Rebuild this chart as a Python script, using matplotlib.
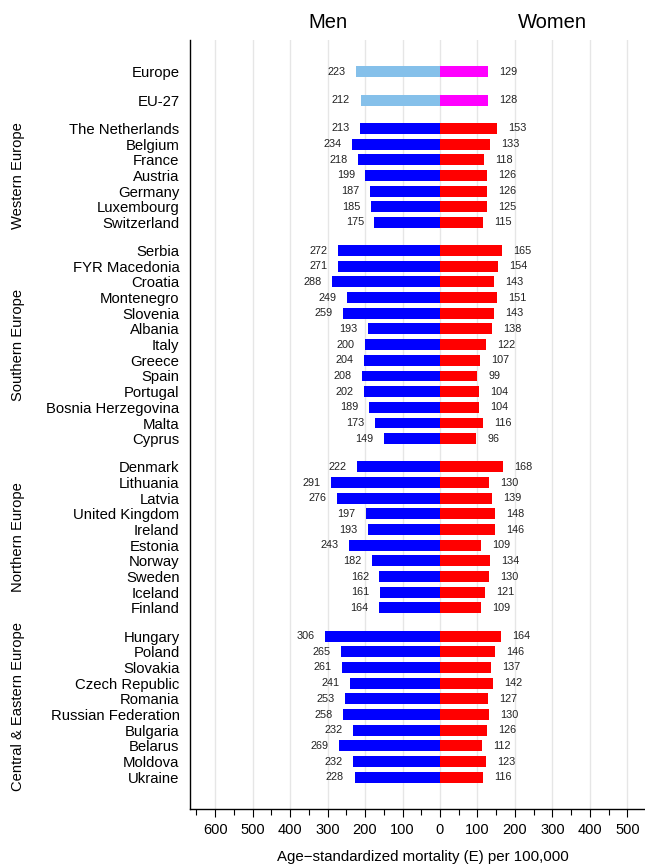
import matplotlib
matplotlib.use("Agg")
import matplotlib.pyplot as plt
import matplotlib.transforms as mtransforms
import numpy as np

plt.rcParams['font.family'] = ['Liberation Sans', 'DejaVu Sans']

totals = ["Europe", "EU-27"]
totals_men = [223, 212]
totals_women = [129, 128]

regions = ["Western Europe", "Southern Europe", "Northern Europe", "Central & Eastern Europe"]
countries = [
    ["The Netherlands", "Belgium", "France", "Austria", "Germany", "Luxembourg", "Switzerland"],
    ["Serbia", "FYR Macedonia", "Croatia", "Montenegro", "Slovenia", "Albania", "Italy", "Greece",
     "Spain", "Portugal", "Bosnia Herzegovina", "Malta", "Cyprus"],
    ["Denmark", "Lithuania", "Latvia", "United Kingdom", "Ireland", "Estonia", "Norway", "Sweden",
     "Iceland", "Finland"],
    ["Hungary", "Poland", "Slovakia", "Czech Republic", "Romania", "Russian Federation", "Bulgaria",
     "Belarus", "Moldova", "Ukraine"],
]
men = [
    [213, 234, 218, 199, 187, 185, 175],
    [272, 271, 288, 249, 259, 193, 200, 204, 208, 202, 189, 173, 149],
    [222, 291, 276, 197, 193, 243, 182, 162, 161, 164],
    [306, 265, 261, 241, 253, 258, 232, 269, 232, 228],
]
women = [
    [153, 133, 118, 126, 126, 125, 115],
    [165, 154, 143, 151, 143, 138, 122, 107, 99, 104, 104, 116, 96],
    [168, 130, 139, 148, 146, 109, 134, 130, 121, 109],
    [164, 146, 137, 142, 127, 130, 126, 112, 123, 116],
]
xticks = [-600, -500, -400, -300, -200, -100, 0, 100, 200, 300, 400, 500]

fig = plt.figure(figsize=(6.45, 8.66), dpi=100)
ax = fig.add_axes([190/645, 1-809/866, 1-190/645, (809-40)/866])

gap = 1.8
bar_h = 0.7
labels, ypos, mvals, wvals, mcols, wcols = [], [], [], [], [], []
y = 0.0
for n, m, w in zip(totals, totals_men, totals_women):
    labels.append(n); ypos.append(y); mvals.append(m); wvals.append(w)
    mcols.append('#85C0EA'); wcols.append('#FF00FF')
    y += gap
region_centers = []
for g in range(len(regions)):
    start = y
    for n, m, w in zip(countries[g], men[g], women[g]):
        labels.append(n); ypos.append(y); mvals.append(m); wvals.append(w)
        mcols.append('#0000FF'); wcols.append('#FF0000')
        y += 1
    region_centers.append((start + y - 1) / 2)
    y += gap - 1

for xv in xticks:
    ax.axvline(xv, color='#E6E6E6', lw=1.0, zorder=0)

ax.barh(ypos, [-v for v in mvals], height=bar_h, color=mcols, zorder=2)
ax.barh(ypos, wvals, height=bar_h, color=wcols, zorder=2)

for yy, m, w in zip(ypos, mvals, wvals):
    ax.annotate(str(m), (-m, yy), xytext=(-7.5, 0), textcoords='offset points',
                ha='right', va='center', fontsize=7.8, color='#222222')
    ax.annotate(str(w), (w, yy), xytext=(8, 0), textcoords='offset points',
                ha='left', va='center', fontsize=7.8, color='#222222')

ax.set_xlim(-667, 547)
ax.set_ylim(47.03, -2.04)
ax.set_yticks(ypos)
ax.set_yticklabels(labels, fontsize=10.7)
ax.tick_params(axis='y', length=0, pad=7.5)
ax.set_xticks(xticks)
ax.set_xticklabels([str(abs(v)) for v in xticks], fontsize=10.5)
ax.set_xticks(np.arange(-650, 550, 100), minor=True)
ax.tick_params(axis='x', which='major', length=6, width=0.8, pad=4)
ax.tick_params(axis='x', which='minor', length=4, width=0.8)
ax.set_xlabel("Age\u2212standardized mortality (E) per 100,000", fontsize=10.8)
ax.xaxis.set_label_coords((422.5 - 190) / 455, -(857 - 809) / 769)
ax.xaxis.label.set_va('center')

for s in ['top', 'right']:
    ax.spines[s].set_visible(False)
ax.spines['left'].set_linewidth(1.0)
ax.spines['bottom'].set_linewidth(1.0)

reg_tr = mtransforms.blended_transform_factory(fig.transFigure, ax.transData)
for r, c in zip(regions, region_centers):
    ax.text(18/645, c, r, transform=reg_tr, rotation=90, ha='center', va='center',
            fontsize=10.6, clip_on=False)

top_tr = mtransforms.blended_transform_factory(ax.transData, fig.transFigure)
ax.text(-300, 1 - 23/866, "Men", ha='center', va='center', fontsize=14.5, transform=top_tr)
ax.text(300, 1 - 23/866, "Women", ha='center', va='center', fontsize=14.5, transform=top_tr)

fig.savefig("out.png", dpi=100)
